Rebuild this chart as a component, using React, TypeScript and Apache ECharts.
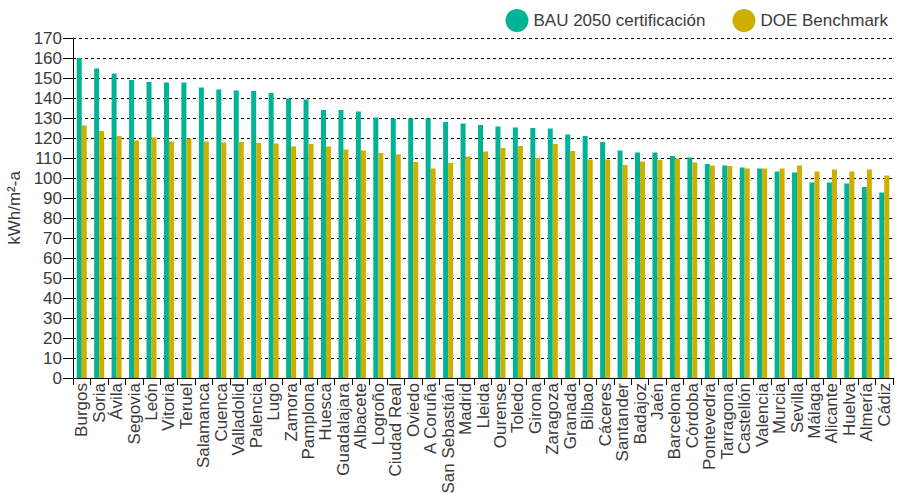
import React, { useEffect, useRef } from "react";
import * as echarts from "echarts";

// Provincial capitals, ordered by BAU 2050 demand
const cities = [
  "Burgos", "Soria", "Ávila", "Segovia", "León", "Vitoria", "Teruel", "Salamanca", "Cuenca", "Valladolid",
  "Palencia", "Lugo", "Zamora", "Pamplona", "Huesca", "Guadalajara", "Albacete", "Logroño", "Ciudad Real", "Oviedo",
  "A Coruña", "San Sebastián", "Madrid", "Lleida", "Ourense", "Toledo", "Girona", "Zaragoza", "Granada", "Bilbao",
  "Cáceres", "Santander", "Badajoz", "Jaén", "Barcelona", "Córdoba", "Pontevedra", "Tarragona", "Castellón", "Valencia",
  "Murcia", "Sevilla", "Málaga", "Alicante", "Huelva", "Almería", "Cádiz",
];

// kWh/m²-a
const bau2050 = [
  160, 154.7, 152.2, 149, 148, 147.7, 147.7, 145.3, 144.3, 143.8,
  143.5, 142.5, 139.7, 139.3, 134, 134, 133.3, 130.3, 129.8, 129.8,
  129.8, 128, 127.3, 126.5, 125.8, 125.3, 125, 124.7, 121.8, 121,
  118, 113.8, 112.7, 112.7, 111, 110.2, 107, 106.3, 105.2, 104.8,
  103.3, 102.8, 97.8, 97.8, 97.3, 95.5, 92.8,
];

const doeBenchmark = [
  126.2, 123.5, 121, 118.8, 120.3, 118.3, 119.7, 118.3, 117.7, 118,
  117.5, 117.3, 115.8, 117, 115.7, 114.3, 113.8, 112.5, 111.7, 108,
  104.8, 107.5, 110.8, 113.2, 115, 116, 110, 117, 113.5, 109.3,
  109.3, 106.5, 108.3, 109, 109.7, 107.8, 106.3, 106, 104.8, 104.8,
  104.8, 106.3, 103.3, 104.2, 103.3, 104.2, 101.2,
];

const seriesNames = ["BAU 2050 certificación", "DOE Benchmark"];
const GREEN = "#00B394";
const GOLD = "#CDAF00";
const FONT = "'Liberation Sans', Arial, sans-serif";
const TEXT = "#3a3a3a";

export default function App() {
  const ref = useRef<HTMLDivElement>(null);

  useEffect(() => {
    if (!ref.current) return;
    const chart = echarts.init(ref.current, null, { renderer: "svg" });
    chart.setOption({
      animation: false,
      textStyle: { fontFamily: FONT },
      legend: {
        top: 4,
        right: 5,
        icon: "circle",
        itemWidth: 23,
        itemHeight: 23,
        itemGap: 27,
        textStyle: { fontSize: 17, color: TEXT, fontFamily: FONT },
        data: seriesNames,
      },
      grid: {
        left: 73,
        right: 5,
        top: 38,
        bottom: 115,
        containLabel: false,
        outerBoundsMode: "none",
      },
      xAxis: {
        type: "category",
        data: cities,
        axisLine: { lineStyle: { color: "#000", width: 1 } },
        axisTick: { show: true, length: 7, lineStyle: { color: "#000" } },
        axisLabel: {
          rotate: 90,
          interval: 0,
          fontSize: 17,
          color: TEXT,
          margin: 5,
          fontFamily: FONT,
        },
      },
      yAxis: {
        type: "value",
        min: 0,
        max: 170,
        interval: 10,
        name: "kWh/m²-a",
        nameLocation: "middle",
        nameRotate: 90,
        nameGap: 50,
        nameTextStyle: { fontSize: 17, color: TEXT, fontFamily: FONT },
        axisLine: { show: true, lineStyle: { color: "#000", width: 1 } },
        axisTick: { show: true, length: 10, lineStyle: { color: "#000" } },
        axisLabel: { fontSize: 17, color: TEXT, margin: 11, fontFamily: FONT },
        splitLine: { show: true, lineStyle: { color: "#000", type: [3, 3], width: 1 } },
      },
      series: [
        {
          name: seriesNames[0],
          type: "bar",
          data: bau2050,
          barWidth: 5,
          barGap: "0%",
          itemStyle: { color: GREEN },
        },
        {
          name: seriesNames[1],
          type: "bar",
          data: doeBenchmark,
          barWidth: 5,
          itemStyle: { color: GOLD },
        },
      ],
    });
    return () => chart.dispose();
  }, []);

  return (
    <div
      ref={ref}
      style={{ position: "fixed", left: 0, top: 0, width: 898, height: 493, background: "#fff" }}
    />
  );
}
